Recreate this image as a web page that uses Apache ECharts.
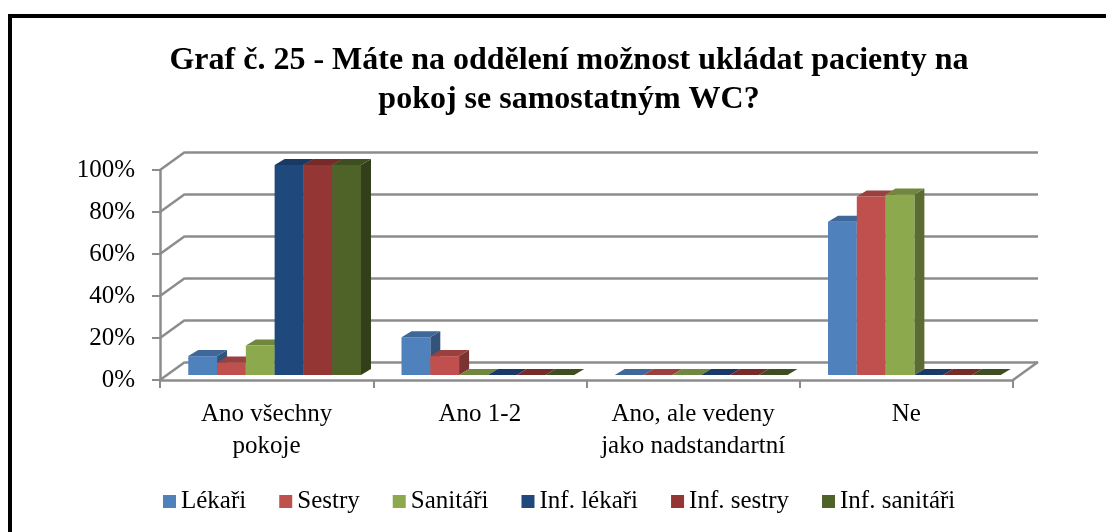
<!DOCTYPE html>
<html>
<head>
<meta charset="utf-8">
<title>Graf č. 25</title>
<script src="https://cdn.jsdelivr.net/npm/echarts@6/dist/echarts.min.js"></script>
<style>
  html, body { margin: 0; padding: 0; background: #fff; overflow: hidden; }
  #chart { width: 1106px; height: 532px; }
</style>
</head>
<body>
<div id="chart"></div>
<script>
// data
const categories = ['Ano všechny\npokoje', 'Ano 1-2', 'Ano, ale vedeny\njako nadstandartní', 'Ne']
const seriesNames = ['Lékaři', 'Sestry', 'Sanitáři', 'Inf. lékaři', 'Inf. sestry', 'Inf. sanitáři']
const lekari = [0.09, 0.18, 0, 0.73]
const sestry = [0.06, 0.09, 0, 0.85]
const sanitari = [0.14, 0, 0, 0.86]
const infLekari = [1, 0, 0, 0]
const infSestry = [1, 0, 0, 0]
const infSanitari = [1, 0, 0, 0]
const yTicks = [0, 0.2, 0.4, 0.6, 0.8, 1]

const seriesValues = [lekari, sestry, sanitari, infLekari, infSestry, infSanitari]
const colors = ['#4F81BD', '#C0504D', '#8DA94E', '#1F497D', '#943634', '#4F6228']

const FONT = 'Liberation Serif'
const DEPTH_X = 25   // depth of the floor / back wall
const DEPTH_Y = 18
const BAR_DX = 10    // depth of one bar
const BAR_DY = 6
const BAR_SHIFT_X = 8
const BAR_SHIFT_Y = 5
const BAR_RATIO = 0.135

// darken a #rrggbb colour by factor k
const shade = (hex, k) => {
  const n = parseInt(hex.slice(1), 16)
  const r = Math.round(((n >> 16) & 255) * k)
  const g = Math.round(((n >> 8) & 255) * k)
  const b = Math.round((n & 255) * k)
  return 'rgb(' + r + ',' + g + ',' + b + ')'
}

const chart = echarts.init(document.getElementById('chart'))

const barRender = (idx) => (params, api) => {
  const cat = api.value(0)
  const val = api.value(1)
  const base = api.coord([cat, 0])
  const top = api.coord([cat, val])
  const band = api.size([1, 0])[0]
  const w = band * BAR_RATIO
  const x = base[0] - 3 * w + BAR_SHIFT_X + idx * w
  const yb = base[1] - BAR_SHIFT_Y
  const yt = top[1] - BAR_SHIFT_Y
  const c = colors[idx]
  return {
    type: 'group',
    children: [
      {
        type: 'polygon',
        shape: { points: [[x + w, yt], [x + w + BAR_DX, yt - BAR_DY], [x + w + BAR_DX, yb - BAR_DY], [x + w, yb]] },
        style: { fill: shade(c, 0.64) }
      },
      {
        type: 'rect',
        shape: { x: x, y: yt, width: w, height: yb - yt },
        style: { fill: c }
      },
      {
        type: 'polygon',
        shape: { points: [[x, yt], [x + BAR_DX, yt - BAR_DY], [x + w + BAR_DX, yt - BAR_DY], [x + w, yt]] },
        style: { fill: shade(c, 0.8) }
      }
    ]
  }
}

const barSeries = seriesNames.map((name, i) => ({
  name: name,
  type: 'custom',
  xAxisIndex: 0,
  yAxisIndex: 0,
  z: 5,
  itemStyle: { color: colors[i] },
  renderItem: barRender(i),
  data: seriesValues[i].map((v, j) => [j, v])
}))

const option = {
  animation: false,
  backgroundColor: '#fff',
  title: {
    text: 'Graf č. 25 - Máte na oddělení možnost ukládat pacienty na\npokoj se samostatným WC?',
    left: 564,
    textAlign: 'center',
    top: 36,
    textStyle: {
      fontFamily: FONT,
      fontSize: 32,
      fontWeight: 'bold',
      color: '#000',
      lineHeight: 39
    }
  },
  graphic: [{
    type: 'rect',
    shape: { x: 10, y: 16, width: 1200, height: 600 },
    style: { fill: 'none', stroke: '#000', lineWidth: 4 },
    z: 100
  }],
  legend: {
    data: seriesNames,
    left: 158,
    top: 484,
    icon: 'rect',
    itemWidth: 13,
    itemHeight: 13,
    itemGap: 33,
    textStyle: { fontFamily: FONT, fontSize: 25, color: '#000' }
  },
  grid: [
    { left: 160, right: 93, top: 170, bottom: 152 },
    { left: 160 + DEPTH_X, right: 93 - DEPTH_X, top: 170 - DEPTH_Y, bottom: 152 + DEPTH_Y }
  ],
  xAxis: [
    {
      type: 'category',
      gridIndex: 0,
      data: categories,
      axisLine: { lineStyle: { color: '#8c8c8c', width: 2.5 } },
      axisTick: { show: true, length: 8, lineStyle: { color: '#8c8c8c', width: 2 } },
      axisLabel: {
        fontFamily: FONT,
        fontSize: 25,
        color: '#000',
        lineHeight: 32,
        margin: 18,
        interval: 0
      }
    },
    {
      type: 'category',
      gridIndex: 1,
      data: categories,
      show: false
    }
  ],
  yAxis: [
    {
      type: 'value',
      gridIndex: 0,
      min: 0,
      max: 1,
      interval: 0.2,
      axisLine: { show: true, lineStyle: { color: '#8c8c8c', width: 2.5 } },
      axisTick: { show: true, length: 8, lineStyle: { color: '#8c8c8c', width: 2 } },
      splitLine: { show: false },
      axisLabel: {
        fontFamily: FONT,
        fontSize: 25,
        color: '#000',
        margin: 25,
        formatter: v => Math.round(v * 100) + '%'
      }
    },
    {
      type: 'value',
      gridIndex: 1,
      min: 0,
      max: 1,
      interval: 0.2,
      axisLine: { show: false },
      axisTick: { show: false },
      axisLabel: { show: false },
      splitLine: { show: true, lineStyle: { color: '#8c8c8c', width: 2.5 } }
    }
  ],
  series: [
    {
      // diagonal edges of the side wall and the floor
      type: 'custom',
      xAxisIndex: 0,
      yAxisIndex: 0,
      z: 1,
      silent: true,
      legendHoverLink: false,
      renderItem: (params, api) => {
        const sys = params.coordSys
        const y = api.coord([0, api.value(1)])[1]
        const children = [{
          type: 'line',
          shape: { x1: sys.x, y1: y, x2: sys.x + DEPTH_X, y2: y - DEPTH_Y },
          style: { stroke: '#8c8c8c', lineWidth: 2.5 }
        }]
        if (api.value(1) === 0) {
          children.push({
            type: 'line',
            shape: { x1: sys.x + sys.width, y1: y, x2: sys.x + sys.width + DEPTH_X, y2: y - DEPTH_Y },
            style: { stroke: '#8c8c8c', lineWidth: 2.5 }
          })
        }
        return { type: 'group', children: children }
      },
      data: yTicks.map(v => [0, v])
    },
    ...barSeries
  ]
}

chart.setOption(option)
</script>
</body>
</html>
